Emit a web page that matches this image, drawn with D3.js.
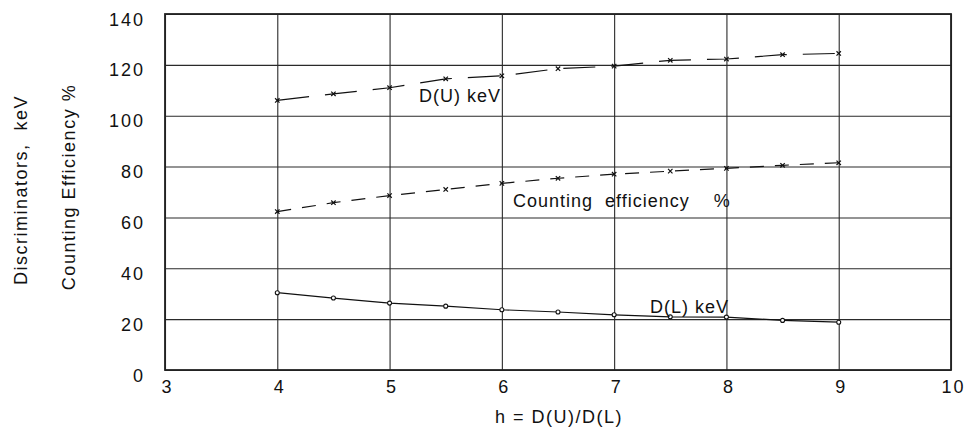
<!DOCTYPE html>
<html>
<head>
<meta charset="utf-8">
<script src="https://cdn.jsdelivr.net/npm/d3@7"></script>
<style>
  html, body { margin: 0; padding: 0; background: #fff; }
  svg { display: block; }
  text { font-family: "Liberation Sans", Arial, Helvetica, sans-serif; fill: #111; }
</style>
</head>
<body>
<svg id="chart" width="971" height="437"></svg>
<script>
// h = D(U)/D(L)
const hValues = [4, 4.5, 5, 5.5, 6, 6.5, 7, 7.5, 8, 8.5, 9];
// Upper discriminator, keV
const upperKeV = [106, 108.6, 111, 114.5, 115.7, 118.5, 119.5, 121.8, 122.3, 124, 124.5];
// Counting efficiency, %
const efficiency = [62.3, 65.8, 68.6, 71, 73.4, 75.4, 77, 78.2, 79.3, 80.5, 81.5];
// Lower discriminator, keV
const lowerKeV = [30.4, 28.3, 26.3, 25.1, 23.7, 22.8, 21.7, 20.9, 20.8, 19.5, 18.8];

const xTicks = [3, 4, 5, 6, 7, 8, 9, 10];
const yTicks = [0, 20, 40, 60, 80, 100, 120, 140];

const svg = d3.select("#chart");
const plot = { left: 165, right: 951, top: 14, bottom: 370 };

const x = d3.scaleLinear().domain([3, 10]).range([plot.left, plot.right]);
const y = d3.scaleLinear().domain([0, 140]).range([plot.bottom, plot.top]);

const gridColor = "#2a2a2a";

// Grid + tick labels via axes
const yAxis = d3.axisLeft(y).tickValues(yTicks).tickFormat(d3.format("d"))
  .tickSizeInner(-(plot.right - plot.left)).tickSizeOuter(0).tickPadding(0);
const gy = svg.append("g").attr("transform", `translate(${plot.left},0)`).call(yAxis);
gy.select(".domain").remove();
gy.selectAll(".tick line").attr("stroke", gridColor).attr("stroke-width", 1.1);
gy.selectAll(".tick text")
  .attr("x", -20).attr("dy", null).attr("y", 11)
  .attr("text-anchor", "end")
  .style("font-size", "18px").style("letter-spacing", "2px")
  .style("font-family", "\"Liberation Sans\", Arial, sans-serif").attr("fill", "#111");

const xAxis = d3.axisBottom(x).tickValues(xTicks).tickFormat(d3.format("d"))
  .tickSizeInner(-(plot.bottom - plot.top)).tickSizeOuter(0).tickPadding(0);
const gx = svg.append("g").attr("transform", `translate(0,${plot.bottom})`).call(xAxis);
gx.select(".domain").remove();
gx.selectAll(".tick line").attr("stroke", gridColor).attr("stroke-width", 1.1);
gx.selectAll(".tick text")
  .attr("y", 23).attr("dy", null).attr("x", 2)
  .attr("text-anchor", "middle")
  .style("font-size", "18px").style("letter-spacing", "2px")
  .style("font-family", "\"Liberation Sans\", Arial, sans-serif").attr("fill", "#111");

// Plot frame
svg.append("rect")
  .attr("x", plot.left).attr("y", plot.top)
  .attr("width", plot.right - plot.left).attr("height", plot.bottom - plot.top)
  .attr("fill", "none").attr("stroke", "#222").attr("stroke-width", 1.8);

const line = d3.line().x(d => x(d[0])).y(d => y(d[1]));
const pairs = vals => hValues.map((h, i) => [h, vals[i]]);

function drawSeries(vals, dash, marker) {
  const pts = pairs(vals);
  svg.append("path").datum(pts)
    .attr("d", line).attr("fill", "none")
    .attr("stroke", "#111").attr("stroke-width", 1.2)
    .attr("stroke-dasharray", dash);
  const g = svg.append("g");
  if (marker === "x") {
    const s = 2.2;
    g.selectAll("path").data(pts).join("path")
      .attr("d", d => {
        const cx = x(d[0]), cy = y(d[1]);
        return `M${cx - s},${cy - s}L${cx + s},${cy + s}M${cx - s},${cy + s}L${cx + s},${cy - s}`;
      })
      .attr("stroke", "#111").attr("stroke-width", 1.2);
  } else {
    g.selectAll("circle").data(pts).join("circle")
      .attr("cx", d => x(d[0])).attr("cy", d => y(d[1])).attr("r", 2)
      .attr("fill", "#fff").attr("stroke", "#111").attr("stroke-width", 1.1);
  }
}

drawSeries(upperKeV, "32,16", "x");
drawSeries(efficiency, "14,11", "x");
drawSeries(lowerKeV, null, "o");

// Curve annotations
const note = (tx, ty, str) => svg.append("text")
  .attr("x", tx).attr("y", ty).text(str)
  .style("font-size", "18px").style("letter-spacing", "1px")
  .style("white-space", "pre");
note(419, 102, "D(U) keV");
note(513, 207, "Counting  efficiency    %");
note(650, 313, "D(L) keV");

// Axis titles
svg.append("text")
  .attr("x", 495).attr("y", 423).text("h = D(U)/D(L)")
  .style("font-size", "18px").style("letter-spacing", "1.5px")
  .style("white-space", "pre");

svg.append("text")
  .attr("transform", "translate(27,190) rotate(-90)")
  .attr("text-anchor", "middle")
  .text("Discriminators,  keV")
  .style("font-size", "18px").style("letter-spacing", "1.5px")
  .style("white-space", "pre");

svg.append("text")
  .attr("transform", "translate(75,187) rotate(-90)")
  .attr("text-anchor", "middle")
  .text("Counting Efficiency %")
  .style("font-size", "18px").style("letter-spacing", "1.5px")
  .style("white-space", "pre");
</script>
</body>
</html>
